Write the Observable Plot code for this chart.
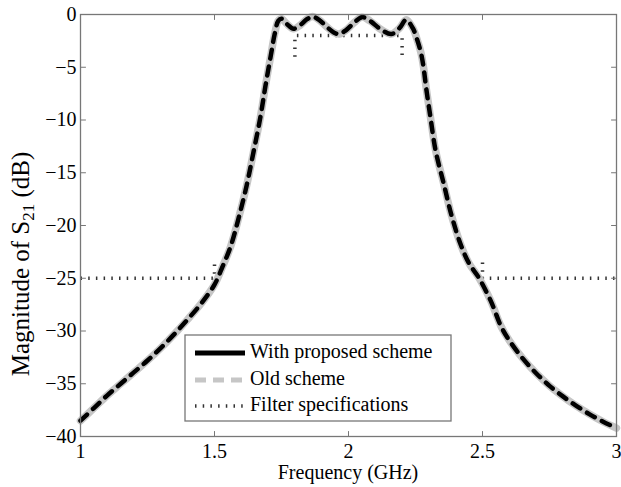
<!DOCTYPE html>
<html>
<head>
<meta charset="utf-8">
<script src="https://cdn.jsdelivr.net/npm/d3@7"></script>
<script src="https://cdn.jsdelivr.net/npm/@observablehq/plot@0.6"></script>
<style>
  html, body { margin: 0; padding: 0; background: #fff; }
  #chart { width: 621px; height: 487px; }
  #chart svg { display: block; }
</style>
</head>
<body>
<div id="chart"></div>
<script>
// Frequency samples (GHz) of the simulated |S21| response
const freqGHz = [
  1.00, 1.05, 1.10, 1.15, 1.20, 1.25, 1.30, 1.35, 1.40, 1.45,
  1.50, 1.53, 1.56, 1.59, 1.62, 1.645, 1.67, 1.69, 1.71, 1.725,
  1.738, 1.75, 1.77, 1.795, 1.82, 1.845, 1.865, 1.89, 1.92, 1.945,
  1.965, 1.99, 2.02, 2.05, 2.08, 2.12, 2.16, 2.19, 2.215, 2.24,
  2.255, 2.27, 2.28, 2.29, 2.305, 2.325, 2.355, 2.385, 2.42, 2.45,
  2.485, 2.53, 2.57, 2.60, 2.65, 2.70, 2.75, 2.80, 2.85, 2.90,
  2.95, 3.00
];

// |S21| in dB, proposed tuning scheme
const s21Proposed = [
  -38.5, -37.3, -36.1, -35.0, -33.9, -32.8, -31.6, -30.3, -28.9, -27.4,
  -25.6, -23.9, -22.0, -19.3, -16.2, -13.1, -9.9, -6.8, -3.9, -1.8,
  -0.6, -0.4, -0.9, -1.35, -1.0, -0.45, -0.2, -0.5, -1.2, -1.7,
  -1.85, -1.5, -0.8, -0.25, -0.6, -1.4, -1.85, -1.3, -0.5, -1.3,
  -2.3, -3.6, -5.0, -7.0, -9.6, -12.9, -16.0, -19.1, -21.9, -23.6,
  -24.9, -27.1, -29.6, -30.9, -32.6, -34.0, -35.2, -36.2, -37.1, -37.9,
  -38.6, -39.2
];

// |S21| in dB, old scheme (coincides with the proposed response)
const s21Old = [
  -38.5, -37.3, -36.1, -35.0, -33.9, -32.8, -31.6, -30.3, -28.9, -27.4,
  -25.6, -23.9, -22.0, -19.3, -16.2, -13.1, -9.9, -6.8, -3.9, -1.8,
  -0.6, -0.4, -0.9, -1.35, -1.0, -0.45, -0.2, -0.5, -1.2, -1.7,
  -1.85, -1.5, -0.8, -0.25, -0.6, -1.4, -1.85, -1.3, -0.5, -1.3,
  -2.3, -3.6, -5.0, -7.0, -9.6, -12.9, -16.0, -19.1, -21.9, -23.6,
  -24.9, -27.1, -29.6, -30.9, -32.6, -34.0, -35.2, -36.2, -37.1, -37.9,
  -38.6, -39.2
];

// Filter specification mask: lower stopband, passband, upper stopband
const specLowerF  = [1, 1.5, 1.5];
const specLowerDb = [-25, -25, -23.5];
const specPassF   = [1.8, 1.8, 2.2, 2.2];
const specPassDb  = [-4, -2, -2, -4];
const specUpperF  = [2.5, 2.5, 3];
const specUpperDb = [-23.5, -25, -25];

const xTicks = [1, 1.5, 2, 2.5, 3];
const yTicks = [0, -5, -10, -15, -20, -25, -30, -35, -40];
const legendLabels = ["With proposed scheme", "Old scheme", "Filter specifications"];
const xTitle = "Frequency (GHz)";

const FONT = "'Liberation Serif', 'Times New Roman', serif";
const GRAY_LINE = "#c6c6c6";
const AXIS_COLOR = "#777";
const SPEC_COLOR = "#333";
const SPEC_DASH = "1.5,6.2";

const proposed = freqGHz.map((f, i) => ({f, db: s21Proposed[i]}));
const old = freqGHz.map((f, i) => ({f, db: s21Old[i]}));
const spec = [
  ...specLowerF.map((f, i) => ({f, db: specLowerDb[i], seg: "lower"})),
  ...specPassF.map((f, i) => ({f, db: specPassDb[i], seg: "pass"})),
  ...specUpperF.map((f, i) => ({f, db: specUpperDb[i], seg: "upper"}))
];

// Inward-pointing tick: a straight stroke along the vector direction
const tickShape = {draw(context, l) { context.moveTo(0, 0); context.lineTo(0, -l); }};
const tickOpts = {length: 5, anchor: "start", shape: tickShape, stroke: AXIS_COLOR, strokeWidth: 1};
const fmt = d3.format("");

const plot = Plot.plot({
  width: 621,
  height: 487,
  marginLeft: 80,
  marginRight: 5,
  marginTop: 14,
  marginBottom: 51,
  style: {fontFamily: FONT, fontSize: "20px", background: "#fff", color: "#000"},
  x: {domain: [1, 3], axis: null},
  y: {domain: [-40, 0], axis: null},
  marks: [
    Plot.line(spec, {x: "f", y: "db", z: "seg", stroke: SPEC_COLOR, strokeWidth: 3.5,
      strokeDasharray: SPEC_DASH, strokeLinecap: "butt"}),
    Plot.line(old, {x: "f", y: "db", stroke: GRAY_LINE, strokeWidth: 7.5, curve: "catmull-rom"}),
    Plot.line(proposed, {x: "f", y: "db", stroke: "#000", strokeWidth: 4.5,
      strokeDasharray: "9,8", curve: "catmull-rom"}),
    Plot.frame({stroke: AXIS_COLOR, strokeWidth: 1.3}),
    Plot.vector(xTicks, {x: d => d, frameAnchor: "bottom", rotate: 0, ...tickOpts}),
    Plot.vector(xTicks, {x: d => d, frameAnchor: "top", rotate: 180, ...tickOpts}),
    Plot.vector(yTicks, {y: d => d, frameAnchor: "left", rotate: 90, ...tickOpts}),
    Plot.vector(yTicks, {y: d => d, frameAnchor: "right", rotate: 270, ...tickOpts}),
    Plot.axisX({ticks: xTicks, anchor: "bottom", tickSize: 0, tickPadding: 7,
      tickFormat: fmt, label: null, fontSize: 20}),
    Plot.axisY({ticks: yTicks, anchor: "left", tickSize: 0, tickPadding: 4,
      tickFormat: fmt, label: null, fontSize: 20})
  ]
});

document.getElementById("chart").appendChild(plot);

const svg = d3.select(plot);
const xr = plot.scale("x").range;

// x-axis title
svg.append("text")
  .attr("x", (xr[0] + xr[1]) / 2)
  .attr("y", 479)
  .attr("text-anchor", "middle")
  .attr("font-family", FONT)
  .attr("font-size", 20)
  .attr("fill", "#000")
  .text(xTitle);

// y-axis title with subscripted S21
const yt = svg.append("text")
  .attr("transform", "translate(29,264) rotate(-90)")
  .attr("text-anchor", "middle")
  .attr("font-family", FONT)
  .attr("font-size", 25)
  .attr("fill", "#000");
yt.append("tspan").text("Magnitude of S");
yt.append("tspan").attr("font-size", 17).attr("dy", "0.3em").text("21");
yt.append("tspan").attr("dy", "-0.22em").text("\u00a0(dB)");

// Legend box
const lg = svg.append("g").attr("transform", "translate(185,335)");
lg.append("rect").attr("width", 266).attr("height", 86)
  .attr("fill", "#fff").attr("stroke", AXIS_COLOR).attr("stroke-width", 1.3);
const rowY = [18, 45, 71];
const sampleStyles = [
  {stroke: "#000", width: 5, dash: null},
  {stroke: GRAY_LINE, width: 5, dash: "11,7"},
  {stroke: SPEC_COLOR, width: 3.5, dash: SPEC_DASH}
];
legendLabels.forEach((label, i) => {
  const s = sampleStyles[i];
  const ln = lg.append("line")
    .attr("x1", 10).attr("x2", 60).attr("y1", rowY[i]).attr("y2", rowY[i])
    .attr("stroke", s.stroke).attr("stroke-width", s.width);
  if (s.dash) ln.attr("stroke-dasharray", s.dash);
  lg.append("text")
    .attr("x", 65).attr("y", rowY[i] + 5)
    .attr("text-anchor", "start")
    .attr("font-family", FONT).attr("font-size", 20).attr("fill", "#000")
    .text(label);
});
</script>
</body>
</html>
